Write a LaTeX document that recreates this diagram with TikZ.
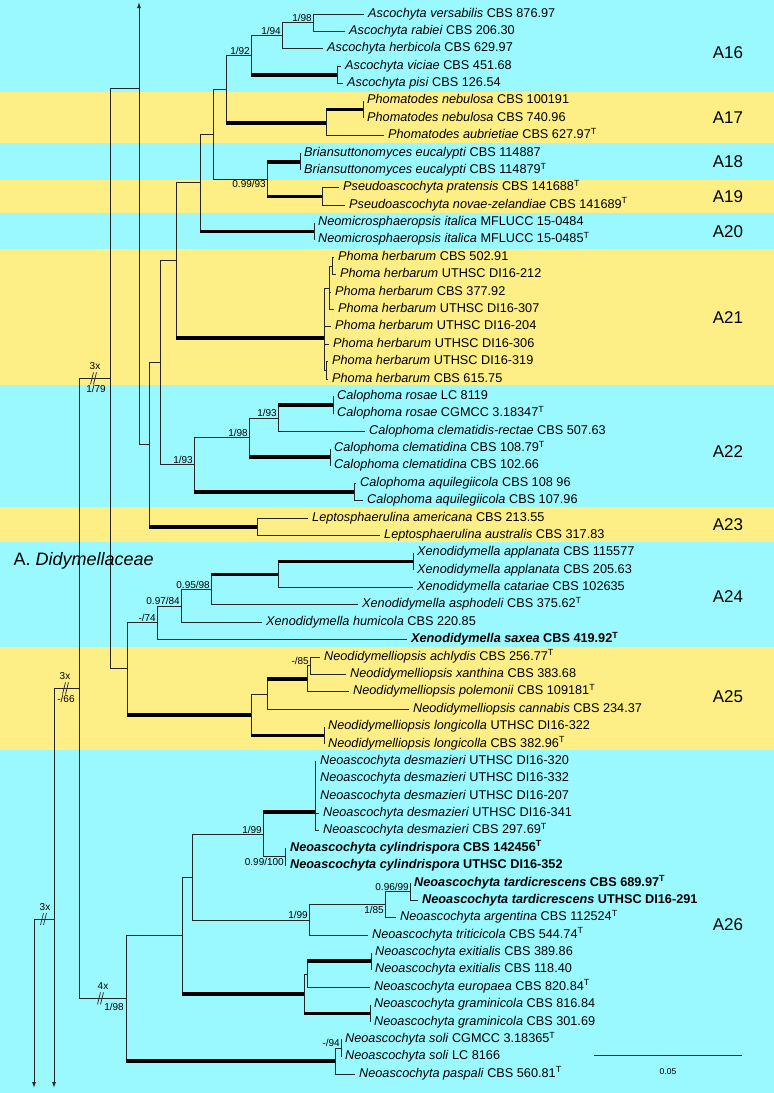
\documentclass[tikz,border=0pt]{standalone}
\usepackage{fontspec}
\setmainfont{Liberation Sans}
\usetikzlibrary{arrows.meta}
\definecolor{cladecyan}{HTML}{9AF9FF}
\definecolor{cladeyellow}{HTML}{FDEE86}
\newcommand{\extype}{\textsuperscript{T}}
\newcommand{\cutmark}[1]{\draw[branch, line width=0.7pt] (#1) ++(-3.5,6) -- ++(3,-12) (#1) ++(-0.5,6) -- ++(3,-12);}

\begin{document}
\begin{tikzpicture}[
    x=1pt, y=-1pt,
    font=\fontsize{12.7}{14}\selectfont,
    tip/.style={anchor=west, inner xsep=4pt, inner ysep=0pt, text height=9pt, text depth=3pt},
    support/.style={font=\fontsize{10}{11}\selectfont, inner sep=1pt},
    supabove/.style={support, anchor=south east},
    supbelow/.style={support, anchor=north east},
    cladelabel/.style={font=\fontsize{17}{19}\selectfont},
    branch/.style={draw=black!85, line width=1pt},
    strong/.style={draw=black, line width=3.6pt},
    offpage/.style={branch, -{Latex[length=6pt,width=4pt]}}
]
\useasboundingbox (0,0) rectangle (774,1093);
\foreach \top/\bot/\col in {0/92/cladecyan, 92/143/cladeyellow, 143/180/cladecyan, 180/213/cladeyellow,
    213/249/cladecyan, 249/385/cladeyellow, 385/507/cladecyan, 507/542/cladeyellow,
    542/647/cladecyan, 647/750/cladeyellow, 750/1093/cladecyan}
    \fill[\col] (0,\top) rectangle (774,\bot);

% A16
\node[tip] (versabilis) at (364,14.0) {\textit{Ascochyta versabilis} CBS 876.97};
\node[tip] (rabiei) at (345,31.4) {\textit{Ascochyta rabiei} CBS 206.30};
\node[tip] (herbicola) at (323,48.8) {\textit{Ascochyta herbicola} CBS 629.97};
\node[tip] (viciae) at (341,66.1) {\textit{Ascochyta viciae} CBS 451.68};
\node[tip] (pisi) at (343,83.5) {\textit{Ascochyta pisi} CBS 126.54};
\coordinate (asc1) at (313,22.7);
\coordinate (asc2) at (282,35.8);
\coordinate (ascvp) at (337,74.8);
\coordinate (asc) at (251,55.3);
% A17
\node[tip] (nebulosa1) at (363,100.9) {\textit{Phomatodes nebulosa} CBS 100191};
\node[tip] (nebulosa2) at (363,118.3) {\textit{Phomatodes nebulosa} CBS 740.96};
\node[tip] (aubrietiae) at (384,135.7) {\textit{Phomatodes aubrietiae} CBS 627.97\extype};
\coordinate (nebulosa) at (363,109.6);
\coordinate (phom) at (326,122.7);
\coordinate (ascphom) at (226,89.0);
% A18 - A20
\node[tip] (brians1) at (300,153.0) {\textit{Briansuttonomyces eucalypti} CBS 114887};
\node[tip] (brians2) at (300,170.4) {\textit{Briansuttonomyces eucalypti} CBS 114879\extype};
\node[tip] (pratensis) at (339,187.8) {\textit{Pseudoascochyta pratensis} CBS 141688\extype};
\node[tip] (novaezel) at (345,205.2) {\textit{Pseudoascochyta novae-zelandiae} CBS 141689\extype};
\node[tip] (italica1) at (314,222.6) {\textit{Neomicrosphaeropsis italica} MFLUCC 15-0484};
\node[tip] (italica2) at (314,239.9) {\textit{Neomicrosphaeropsis italica} MFLUCC 15-0485\extype};
\coordinate (brians) at (300,161.7);
\coordinate (pseudo) at (322,196.5);
\coordinate (brpseudo) at (267,179.1);
\coordinate (italica) at (314,231.3);
\coordinate (asctobr) at (213,134.1);
\coordinate (asctoneo) at (200,182.7);
% A21
\node[tip] (herbarum1) at (334,257.3) {\textit{Phoma herbarum} CBS 502.91};
\node[tip] (herbarum2) at (336,274.7) {\textit{Phoma herbarum} UTHSC DI16-212};
\node[tip] (herbarum3) at (331,292.1) {\textit{Phoma herbarum} CBS 377.92};
\node[tip] (herbarum4) at (334,309.5) {\textit{Phoma herbarum} UTHSC DI16-307};
\node[tip] (herbarum5) at (331,326.8) {\textit{Phoma herbarum} UTHSC DI16-204};
\node[tip] (herbarum6) at (329,344.2) {\textit{Phoma herbarum} UTHSC DI16-306};
\node[tip] (herbarum7) at (328,361.6) {\textit{Phoma herbarum} UTHSC DI16-319};
\node[tip] (herbarum8) at (328,379.0) {\textit{Phoma herbarum} CBS 615.75};
\coordinate (herb1) at (332,266.0);
\coordinate (herb2) at (329,288.0);
\coordinate (herb4) at (326,370.3);
\coordinate (herb) at (324,338.0);
\coordinate (asctophoma) at (176,260.4);
% A22
\node[tip] (rosae1) at (333,396.4) {\textit{Calophoma rosae} LC 8119};
\node[tip] (rosae2) at (333,413.7) {\textit{Calophoma rosae} CGMCC 3.18347\extype};
\node[tip] (clemrectae) at (365,431.1) {\textit{Calophoma clematidis-rectae} CBS 507.63};
\node[tip] (clematidina1) at (330,448.5) {\textit{Calophoma clematidina} CBS 108.79\extype};
\node[tip] (clematidina2) at (330,465.9) {\textit{Calophoma clematidina} CBS 102.66};
\node[tip] (aquil1) at (356,483.3) {\textit{Calophoma aquilegiicola} CBS 108 96};
\node[tip] (aquil2) at (363,500.6) {\textit{Calophoma aquilegiicola} CBS 107.96};
\coordinate (rosae) at (333,405.1);
\coordinate (calo2) at (278,418.1);
\coordinate (clemat) at (330,457.2);
\coordinate (calo1) at (249,437.7);
\coordinate (aquil) at (354,492.0);
\coordinate (calo) at (194,464.9);
\coordinate (asctocalo) at (160,362.7);
% A23
\node[tip] (americana) at (308,518.0) {\textit{Leptosphaerulina americana} CBS 213.55};
\node[tip] (australis) at (380,535.4) {\textit{Leptosphaerulina australis} CBS 317.83};
\coordinate (lepto) at (257,526.7);
\coordinate (asctolepto) at (149,444.7);
% A24
\node[tip] (applanata1) at (413,552.8) {\textit{Xenodidymella applanata} CBS 115577};
\node[tip] (applanata2) at (413,570.2) {\textit{Xenodidymella applanata} CBS 205.63};
\node[tip] (catariae) at (413,587.5) {\textit{Xenodidymella catariae} CBS 102635};
\node[tip] (asphodeli) at (358,604.9) {\textit{Xenodidymella asphodeli} CBS 375.62\extype};
\node[tip] (humicola) at (262,622.3) {\textit{Xenodidymella humicola} CBS 220.85};
\node[tip] (saxea) at (407,639.7) {\textbf{\textit{Xenodidymella saxea} CBS 419.92\extype}};
\coordinate (applan) at (413,561.5);
\coordinate (xeno4) at (278,574.5);
\coordinate (xeno3) at (211,589.7);
\coordinate (xeno2) at (181,606.0);
\coordinate (xeno1) at (157,622.9);
% A25
\node[tip] (achlydis) at (320,657.1) {\textit{Neodidymelliopsis achlydis} CBS 256.77\extype};
\node[tip] (xanthina) at (346,674.4) {\textit{Neodidymelliopsis xanthina} CBS 383.68};
\node[tip] (polemonii) at (349,691.8) {\textit{Neodidymelliopsis polemonii} CBS 109181\extype};
\node[tip] (cannabis) at (409,709.2) {\textit{Neodidymelliopsis cannabis} CBS 234.37};
\node[tip] (longicolla1) at (324,726.6) {\textit{Neodidymelliopsis longicolla} UTHSC DI16-322};
\node[tip] (longicolla2) at (324,744.0) {\textit{Neodidymelliopsis longicolla} CBS 382.96\extype};
\coordinate (neodi3) at (310,665.8);
\coordinate (neodi2) at (307,678.8);
\coordinate (neodi1) at (267,694.0);
\coordinate (longic) at (324,735.3);
\coordinate (neodi) at (251,714.7);
\coordinate (xenoneodi) at (127,668.8);
% A26
\node[tip] (desmazieri1) at (316,761.3) {\textit{Neoascochyta desmazieri} UTHSC DI16-320};
\node[tip] (desmazieri2) at (316,778.7) {\textit{Neoascochyta desmazieri} UTHSC DI16-332};
\node[tip] (desmazieri3) at (316,796.1) {\textit{Neoascochyta desmazieri} UTHSC DI16-207};
\node[tip] (desmazieri4) at (319,813.5) {\textit{Neoascochyta desmazieri} UTHSC DI16-341};
\node[tip] (desmazieri5) at (319,830.9) {\textit{Neoascochyta desmazieri} CBS 297.69\extype};
\node[tip] (cylindrispora1) at (286,848.2) {\textbf{\textit{Neoascochyta cylindrispora} CBS 142456\extype}};
\node[tip] (cylindrispora2) at (286,865.6) {\textbf{\textit{Neoascochyta cylindrispora} UTHSC DI16-352}};
\node[tip] (tardicrescens1) at (410,883.0) {\textbf{\textit{Neoascochyta tardicrescens} CBS 689.97\extype}};
\node[tip] (tardicrescens2) at (418,900.4) {\textbf{\textit{Neoascochyta tardicrescens} UTHSC DI16-291}};
\node[tip] (argentina) at (396,917.8) {\textit{Neoascochyta argentina} CBS 112524\extype};
\node[tip] (triticicola) at (368,935.1) {\textit{Neoascochyta triticicola} CBS 544.74\extype};
\node[tip] (exitialis1) at (371,952.5) {\textit{Neoascochyta exitialis} CBS 389.86};
\node[tip] (exitialis2) at (371,969.9) {\textit{Neoascochyta exitialis} CBS 118.40};
\node[tip] (europaea) at (370,987.3) {\textit{Neoascochyta europaea} CBS 820.84\extype};
\node[tip] (graminicola1) at (370,1004.7) {\textit{Neoascochyta graminicola} CBS 816.84};
\node[tip] (graminicola2) at (370,1022.0) {\textit{Neoascochyta graminicola} CBS 301.69};
\node[tip] (soli1) at (341,1039.4) {\textit{Neoascochyta soli} CGMCC 3.18365\extype};
\node[tip] (soli2) at (341,1056.8) {\textit{Neoascochyta soli} LC 8166};
\node[tip] (paspali) at (355,1074.2) {\textit{Neoascochyta paspali} CBS 560.81\extype};
\coordinate (desm) at (315,812.0);
\coordinate (cylin) at (285,856.9);
\coordinate (neoasc3) at (263,834.5);
\coordinate (tardi) at (410,891.7);
\coordinate (tardarg) at (385,904.8);
\coordinate (tarditrit) at (309,920.0);
\coordinate (neoasc2) at (192,877.2);
\coordinate (exitial) at (371,961.2);
\coordinate (exiteur) at (307,974.3);
\coordinate (gramin) at (370,1013.4);
\coordinate (exitgram) at (304,993.9);
\coordinate (neoasc1) at (182,935.6);
\coordinate (soli) at (341,1048.1);
\coordinate (solipasp) at (335,1061.2);
\coordinate (neoasc) at (126,998.4);
% backbone
\coordinate (rootup) at (139,88);
\coordinate (rootmid) at (110,378.4);
\coordinate (rootA) at (79,688.4);
\coordinate (rootB) at (54,919);
\coordinate (rootC) at (34,919);
\coordinate (arrowup) at (139,2);
\coordinate (arrowB) at (54,1088);
\coordinate (arrowC) at (34,1088);

% branches A16-A17
\draw[branch] (asc1) |- (versabilis.west);
\draw[branch] (asc1) |- (rabiei.west);
\draw[branch] (asc2) |- (asc1);
\draw[branch] (asc2) |- (herbicola.west);
\draw[branch] (ascvp) |- (viciae.west);
\draw[branch] (ascvp) |- (pisi.west);
\draw[branch] (asc) |- (asc2);
\draw[branch] (asc) |- (ascvp);
\draw[strong] (asc |- ascvp) -- (ascvp);
\draw[branch] (nebulosa) |- (nebulosa1.west);
\draw[branch] (nebulosa) |- (nebulosa2.west);
\draw[branch] (phom) |- (nebulosa);
\draw[strong] (phom |- nebulosa) -- (nebulosa);
\draw[branch] (phom) |- (aubrietiae.west);
\draw[branch] (ascphom) |- (asc);
\draw[branch] (ascphom) |- (phom);
\draw[strong] (ascphom |- phom) -- (phom);
% branches A18-A20
\draw[branch] (brians) |- (brians1.west);
\draw[branch] (brians) |- (brians2.west);
\draw[branch] (pseudo) |- (pratensis.west);
\draw[branch] (pseudo) |- (novaezel.west);
\draw[branch] (brpseudo) |- (brians);
\draw[branch] (brpseudo) |- (pseudo);
\draw[strong] (brpseudo |- brians) -- (brians);
\draw[strong] (brpseudo |- pseudo) -- (pseudo);
\draw[branch] (italica) |- (italica1.west);
\draw[branch] (italica) |- (italica2.west);
\draw[branch] (asctobr) |- (ascphom);
\draw[branch] (asctobr) |- (brpseudo);
\draw[branch] (asctoneo) |- (asctobr);
\draw[branch] (asctoneo) |- (italica);
\draw[strong] (asctoneo |- italica) -- (italica);
% branches A21
\draw[branch] (herb1) |- (herbarum1.west);
\draw[branch] (herb1) |- (herbarum2.west);
\draw[branch] (herb2) |- (herb1);
\draw[branch] (herb2) |- (herbarum3.west);
\draw[branch] (herb2) |- (herbarum4.west);
\draw[branch] (herb4) |- (herbarum7.west);
\draw[branch] (herb4) |- (herbarum8.west);
\draw[branch] (herb) |- (herb2);
\draw[branch] (herb) |- (herbarum5.west);
\draw[branch] (herb) |- (herbarum6.west);
\draw[branch] (herb) |- (herb4);
\draw[branch] (asctophoma) |- (asctoneo);
\draw[branch] (asctophoma) |- (herb);
\draw[strong] (asctophoma |- herb) -- (herb);
% branches A22-A23
\draw[branch] (rosae) |- (rosae1.west);
\draw[branch] (rosae) |- (rosae2.west);
\draw[branch] (calo2) |- (rosae);
\draw[strong] (calo2 |- rosae) -- (rosae);
\draw[branch] (calo2) |- (clemrectae.west);
\draw[branch] (clemat) |- (clematidina1.west);
\draw[branch] (clemat) |- (clematidina2.west);
\draw[branch] (calo1) |- (calo2);
\draw[branch] (calo1) |- (clemat);
\draw[strong] (calo1 |- clemat) -- (clemat);
\draw[branch] (aquil) |- (aquil1.west);
\draw[branch] (aquil) |- (aquil2.west);
\draw[branch] (calo) |- (calo1);
\draw[branch] (calo) |- (aquil);
\draw[strong] (calo |- aquil) -- (aquil);
\draw[branch] (asctocalo) |- (asctophoma);
\draw[branch] (asctocalo) |- (calo);
\draw[branch] (lepto) |- (americana.west);
\draw[branch] (lepto) |- (australis.west);
\draw[branch] (asctolepto) |- (asctocalo);
\draw[branch] (asctolepto) |- (lepto);
\draw[strong] (asctolepto |- lepto) -- (lepto);
% branches A24-A25
\draw[branch] (applan) |- (applanata1.west);
\draw[branch] (applan) |- (applanata2.west);
\draw[branch] (xeno4) |- (applan);
\draw[strong] (xeno4 |- applan) -- (applan);
\draw[branch] (xeno4) |- (catariae.west);
\draw[branch] (xeno3) |- (xeno4);
\draw[strong] (xeno3 |- xeno4) -- (xeno4);
\draw[branch] (xeno3) |- (asphodeli.west);
\draw[branch] (xeno2) |- (xeno3);
\draw[branch] (xeno2) |- (humicola.west);
\draw[branch] (xeno1) |- (xeno2);
\draw[branch] (xeno1) |- (saxea.west);
\draw[branch] (neodi3) |- (achlydis.west);
\draw[branch] (neodi3) |- (xanthina.west);
\draw[branch] (neodi2) |- (neodi3);
\draw[branch] (neodi2) |- (polemonii.west);
\draw[branch] (neodi1) |- (neodi2);
\draw[strong] (neodi1 |- neodi2) -- (neodi2);
\draw[branch] (neodi1) |- (cannabis.west);
\draw[branch] (longic) |- (longicolla1.west);
\draw[branch] (longic) |- (longicolla2.west);
\draw[branch] (neodi) |- (neodi1);
\draw[branch] (neodi) |- (longic);
\draw[strong] (neodi |- longic) -- (longic);
\draw[branch] (xenoneodi) |- (xeno1);
\draw[branch] (xenoneodi) |- (neodi);
\draw[strong] (xenoneodi |- neodi) -- (neodi);
% branches A26
\draw[branch] (desm) |- (desmazieri1.west);
\draw[branch] (desm) |- (desmazieri2.west);
\draw[branch] (desm) |- (desmazieri3.west);
\draw[branch] (desm) |- (desmazieri4.west);
\draw[branch] (desm) |- (desmazieri5.west);
\draw[branch] (cylin) |- (cylindrispora1.west);
\draw[branch] (cylin) |- (cylindrispora2.west);
\draw[branch] (neoasc3) |- (desm);
\draw[strong] (neoasc3 |- desm) -- (desm);
\draw[branch] (neoasc3) |- (cylin);
\draw[branch] (tardi) |- (tardicrescens1.west);
\draw[branch] (tardi) |- (tardicrescens2.west);
\draw[branch] (tardarg) |- (tardi);
\draw[branch] (tardarg) |- (argentina.west);
\draw[branch] (tarditrit) |- (tardarg);
\draw[branch] (tarditrit) |- (triticicola.west);
\draw[branch] (neoasc2) |- (neoasc3);
\draw[branch] (neoasc2) |- (tarditrit);
\draw[branch] (exitial) |- (exitialis1.west);
\draw[branch] (exitial) |- (exitialis2.west);
\draw[branch] (exiteur) |- (exitial);
\draw[strong] (exiteur |- exitial) -- (exitial);
\draw[branch] (exiteur) |- (europaea.west);
\draw[branch] (gramin) |- (graminicola1.west);
\draw[branch] (gramin) |- (graminicola2.west);
\draw[branch] (exitgram) |- (exiteur);
\draw[branch] (exitgram) |- (gramin);
\draw[strong] (exitgram |- gramin) -- (gramin);
\draw[branch] (neoasc1) |- (neoasc2);
\draw[branch] (neoasc1) |- (exitgram);
\draw[strong] (neoasc1 |- exitgram) -- (exitgram);
\draw[branch] (soli) |- (soli1.west);
\draw[branch] (soli) |- (soli2.west);
\draw[branch] (solipasp) |- (soli);
\draw[branch] (solipasp) |- (paspali.west);
\draw[branch] (neoasc) |- (neoasc1);
\draw[branch] (neoasc) |- (solipasp);
\draw[strong] (neoasc |- solipasp) -- (solipasp);
% backbone
\draw[offpage] (rootup) -- (arrowup);
\draw[branch] (rootup) |- (asctolepto);
\draw[branch] (rootmid) |- (rootup);
\draw[branch] (rootmid) |- (xenoneodi);
\draw[branch] (rootA) |- (rootmid);
\draw[branch] (rootA) |- (neoasc);
\draw[branch] (rootB) |- (rootA);
\draw[offpage] (rootB) -- (arrowB);
\draw[branch] (rootC) -- (rootB);
\draw[offpage] (rootC) -- (arrowC);

% support values
\node[supabove] (s-asc1) at (asc1) {1/98};
\node[supabove] (s-asc2) at (asc2) {1/94};
\node[supabove] (s-asc) at (asc) {1/92};
\node[supbelow] (s-brpseudo) at (brpseudo) {0.99/93};
\node[supabove] (s-calo2) at (calo2) {1/93};
\node[supabove] (s-calo1) at (calo1) {1/98};
\node[supabove] (s-calo) at (calo) {1/93};
\node[supabove] (s-xeno3) at (xeno3) {0.95/98};
\node[supabove] (s-xeno2) at (xeno2) {0.97/84};
\node[supabove] (s-xeno1) at (xeno1) {-/74};
\node[supabove] (s-neodi3) at (neodi3) {-/85};
\node[supabove] (s-neoasc3) at (neoasc3) {1/99};
\node[supbelow] (s-cylin) at (cylin) {0.99/100};
\node[supabove] (s-tarditrit) at (tarditrit) {1/99};
\node[supbelow] (s-tardarg) at (tardarg) {1/85};
\node[supabove] (s-tardi) at (tardi) {0.96/99};
\node[supabove] (s-soli) at (soli) {-/94};
% shortened branches
\coordinate (c-rootmid) at (94,378.4);
\coordinate (c-neoasc) at (101,998.4);
\coordinate (c-rootA) at (66,688.4);
\coordinate (c-rootB) at (44,919);
\cutmark{c-rootmid}
\cutmark{c-neoasc}
\cutmark{c-rootA}
\cutmark{c-rootB}
\node[support, anchor=south] (x-rootmid) at (95,371) {3x};
\node[support, anchor=north] (s-rootmid) at (96,384) {1/79};
\node[support, anchor=south] (x-neoasc) at (103,991) {4x};
\node[support, anchor=north] (s-neoasc) at (114,1002) {1/98};
\node[support, anchor=south] (x-rootA) at (65,681) {3x};
\node[support, anchor=north] (s-rootA) at (66,694) {-/66};
\node[support, anchor=south] (x-rootB) at (45,912) {3x};

% clade labels
\node[cladelabel] (A16) at (728,53) {A16};
\node[cladelabel] (A17) at (728,118) {A17};
\node[cladelabel] (A18) at (728,162) {A18};
\node[cladelabel] (A19) at (728,197) {A19};
\node[cladelabel] (A20) at (728,232) {A20};
\node[cladelabel] (A21) at (728,318) {A21};
\node[cladelabel] (A22) at (728,452) {A22};
\node[cladelabel] (A23) at (728,525) {A23};
\node[cladelabel] (A24) at (728,597) {A24};
\node[cladelabel] (A25) at (728,697) {A25};
\node[cladelabel] (A26) at (728,925) {A26};
\node[anchor=west, font=\fontsize{18}{20}\selectfont] (family) at (10,561) {A. \textit{Didymellaceae}};

% scale bar
\coordinate (scaleL) at (594,1055);
\coordinate (scaleR) at (742,1055);
\draw[branch] (scaleL) -- (scaleR);
\node[font=\fontsize{8.5}{9}\selectfont] (scaletext) at (668,1072) {0.05};
\end{tikzpicture}
\end{document}
